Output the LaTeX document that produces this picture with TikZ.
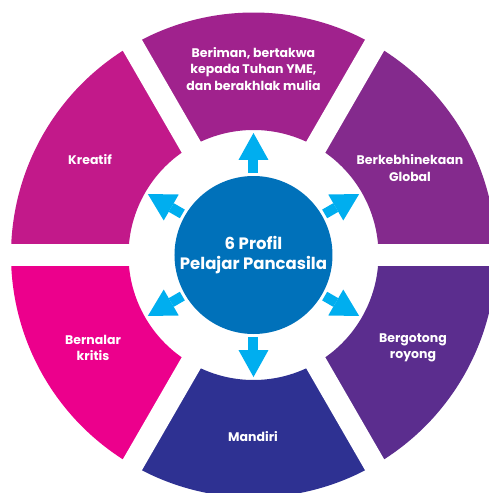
\documentclass[tikz,border=0pt]{standalone}
\usepackage{fontspec}
\setmainfont{Poppins}[BoldFont={Poppins Bold}]
\usetikzlibrary{arrows.meta}
\definecolor{iman}{HTML}{A0228D}
\definecolor{global}{HTML}{842A8D}
\definecolor{gotong}{HTML}{5B2D8E}
\definecolor{mandiri}{HTML}{2E3192}
\definecolor{nalar}{HTML}{EC008C}
\definecolor{kreatif}{HTML}{C2198A}
\definecolor{hubblue}{HTML}{0071BA}
\definecolor{spokecyan}{HTML}{00AEEF}

\begin{document}
\begin{tikzpicture}[x=1pt,y=1pt,
  sectortext/.style={text=white,align=center,font=\bfseries\fontsize{12.5}{16.5}\selectfont},
  spoke/.style={draw=spokecyan,line width=10pt,shorten <=3pt,
    -{Triangle[width=30pt,length=27pt,line width=0pt]}}]
  \useasboundingbox (-253.5,-238) rectangle (235.5,255);
  \clip (-253.5,-238) rectangle (235.5,255);

  \foreach \a/\c in {90/iman, 30/global, -30/gotong, -90/mandiri, -150/nalar, 150/kreatif} {
    \fill[\c] (\a-30:125) arc[start angle=\a-30, end angle=\a+30, radius=125]
      -- (\a+30:242.5) arc[start angle=\a+30, end angle=\a-30, radius=242.5] -- cycle;
  }
  \foreach \a in {0, 60, 120} {
    \draw[white, line width=22pt] (\a:260) -- (\a+180:260);
  }

  \node[circle,fill=hubblue,minimum size=158pt,inner sep=0pt,text=white,align=center,
    font=\bfseries\fontsize{16.5}{20}\selectfont] (hub) at (0,0) {6 Profil\\Pelajar Pancasila};

  \foreach \a [count=\i] in {90, 30, -30, -90, -150, 150} {
    \coordinate (tip\i) at (\a:122);
    \draw[spoke] (hub.\a) -- (tip\i);
  }

  \node[sectortext] (beriman) at (0,186) {Beriman, bertakwa\\kepada Tuhan YME,\\dan berakhlak mulia};
  \node[sectortext] (kebhinekaan) at (156.5,87) {Berkebhinekaan\\Global};
  \node[sectortext] (gotongroyong) at (159.5,-93) {Bergotong\\royong};
  \node[sectortext] (mandiri) at (-0.5,-182) {Mandiri};
  \node[sectortext] (bernalar) at (-160.5,-93) {Bernalar\\kritis};
  \node[sectortext] (kreatif) at (-163.5,95) {Kreatif};
\end{tikzpicture}
\end{document}
